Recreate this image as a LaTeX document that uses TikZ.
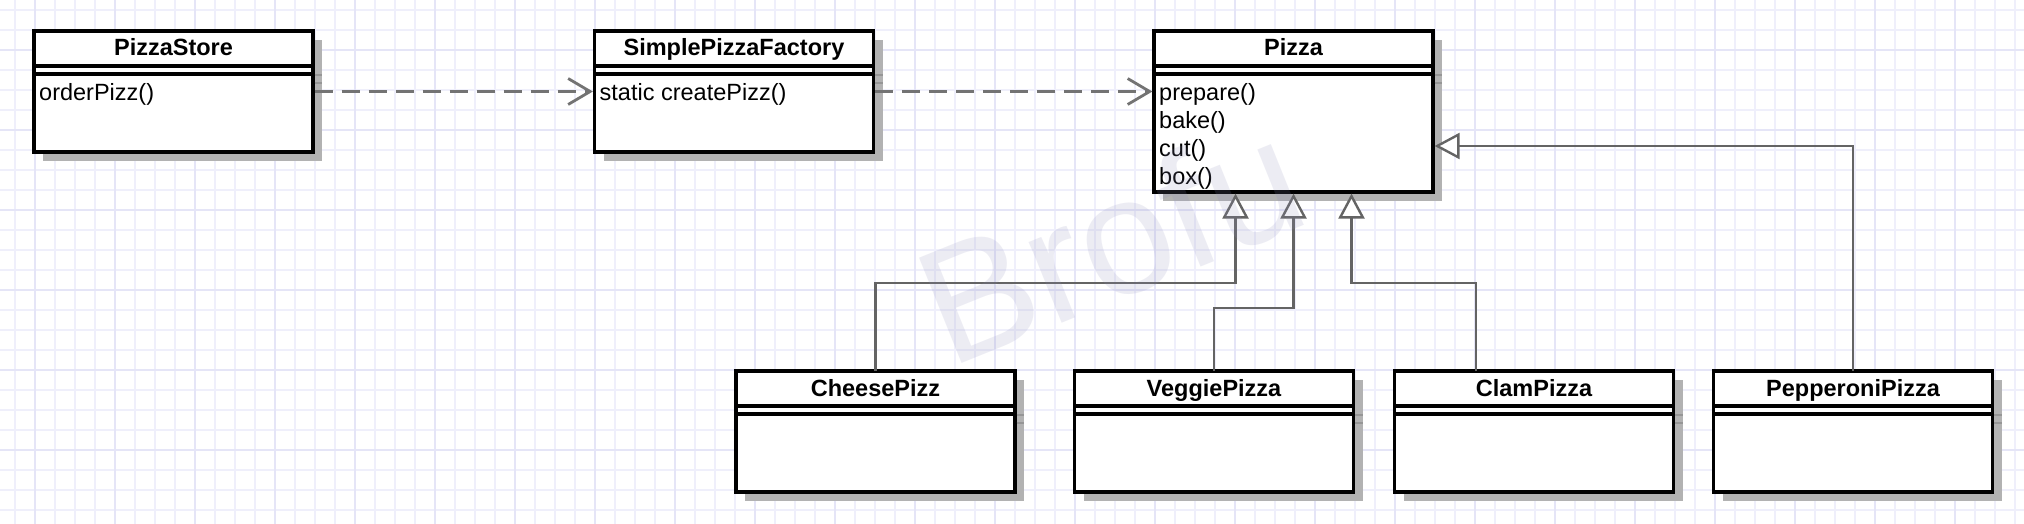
\documentclass[tikz,border=0pt]{standalone}
\usepackage{fontspec}
\setmainfont{Liberation Sans}
\usetikzlibrary{arrows.meta,calc,shadows}
\definecolor{gridminor}{RGB}{239,239,251}
\definecolor{gridmajor}{RGB}{229,229,247}
\definecolor{shadowgray}{RGB}{178,178,178}
\definecolor{shadowline}{RGB}{150,150,150}
\definecolor{linegray}{RGB}{100,100,100}
\definecolor{dashgray}{RGB}{115,115,115}
\definecolor{wmark}{RGB}{140,140,185}
\begin{document}
\begin{tikzpicture}[x=1pt,y=-1pt,
  umlbox/.style={rectangle, draw=black, line width=3.3pt, fill=white,
     minimum width=279pt, inner sep=0pt, outer sep=0pt,
     drop shadow={shadow xshift=9pt, shadow yshift=-9pt, fill=shadowgray, opacity=1}},
  clsname/.style={font=\bfseries\fontsize{23.5}{26}\selectfont, anchor=base, inner sep=0pt},
  meth/.style={font=\fontsize{23.5}{26}\selectfont, anchor=base west, inner sep=0pt},
  divider/.style={draw=black, line width=3.3pt},
  shline/.style={draw=shadowline, line width=1.6pt},
  dep/.style={draw=dashgray, line width=3.4pt, dash pattern=on 18pt off 9pt,
     -{Straight Barb[length=22pt,width=26pt,line width=2.8pt]}, shorten >=1.6pt, shorten <=1.6pt},
  gen/.style={draw=linegray, line width=2.8pt,
     -{Triangle[open,length=25pt,width=26pt,fill=white,line width=2.4pt]}, shorten >=1.6pt},
]
\useasboundingbox (0,0) rectangle (2024,524);
\fill[white] (0,0) rectangle (2024,524);
% grid
\foreach \x in {15,35,...,2024} \draw[gridminor, line width=1.1pt] (\x,0) -- (\x,524);
\foreach \y in {10,30,...,524} \draw[gridminor, line width=1.1pt] (0,\y) -- (2024,\y);
\foreach \x in {35,115,...,2024} \draw[gridmajor, line width=1.5pt] (\x,0) -- (\x,524);
\foreach \y in {50,130,...,524} \draw[gridmajor, line width=1.5pt] (0,\y) -- (2024,\y);

% class boxes
\node[umlbox, minimum height=121pt] (store) at (173.5,91.5) {};
\node[umlbox, minimum height=121pt] (factory) at (734,91.5) {};
\node[umlbox, minimum height=161pt] (pizza) at (1293.5,111.5) {};
\node[umlbox, minimum height=121pt] (cheese) at (875.5,431.5) {};
\node[umlbox, minimum height=121pt] (veggie) at (1214,431.5) {};
\node[umlbox, minimum height=121pt] (clam) at (1534,431.5) {};
\node[umlbox, minimum height=121pt] (pepperoni) at (1853,431.5) {};

\foreach \n in {store,factory,pizza,cheese,veggie,clam,pepperoni} {
  \draw[divider] ($(\n.north west)+(0,35)$) -- ($(\n.north east)+(0,35)$);
  \draw[divider] ($(\n.north west)+(0,43)$) -- ($(\n.north east)+(0,43)$);
  \draw[shline] ($(\n.north east)+(1.7,44)$) -- ++(7.3,0);
  \draw[shline] ($(\n.north east)+(1.7,52)$) -- ++(7.3,0);
}

% names
\node[clsname] (storeT) at ($(store.north)+(0,25)$) {PizzaStore};
\node[clsname] (factoryT) at ($(factory.north)+(0,25)$) {SimplePizzaFactory};
\node[clsname] (pizzaT) at ($(pizza.north)+(0,25)$) {Pizza};
\node[clsname] (cheeseT) at ($(cheese.north)+(0,25)$) {CheesePizz};
\node[clsname] (veggieT) at ($(veggie.north)+(0,25)$) {VeggiePizza};
\node[clsname] (clamT) at ($(clam.north)+(0,25)$) {ClamPizza};
\node[clsname] (pepperoniT) at ($(pepperoni.north)+(0,25)$) {PepperoniPizza};

% methods
\node[meth] (m1) at ($(store.north west)+(5,70)$) {orderPizz()};
\node[meth] (m2) at ($(factory.north west)+(5,70)$) {static createPizz()};
\node[meth] (m3) at ($(pizza.north west)+(5,70)$) {prepare()};
\node[meth] (m4) at ($(pizza.north west)+(5,97.7)$) {bake()};
\node[meth] (m5) at ($(pizza.north west)+(5,125.4)$) {cut()};
\node[meth] (m6) at ($(pizza.north west)+(5,153.1)$) {box()};

% dependencies
\draw[dep] (store.east) -- (factory.west);
\draw[dep] (factory.east) -- (pizza.west |- factory.east);

% generalizations
\draw[gen] (cheese.north) -- ++(0,-88) -| ([xshift=-58pt]pizza.south);
\draw[gen] (veggie.north) -- ++(0,-63) -| (pizza.south);
\draw[gen] ([xshift=-58pt]clam.north) -- ++(0,-88) -| ([xshift=58pt]pizza.south);
\draw[gen] (pepperoni.north) |- ([yshift=-34.5pt]pizza.east);

% watermark
\node[rotate=22, text=wmark, opacity=0.16, font=\fontsize{165}{165}\selectfont, inner sep=0pt] (wm) at (1110,240) {Brofu};
\end{tikzpicture}
\end{document}
